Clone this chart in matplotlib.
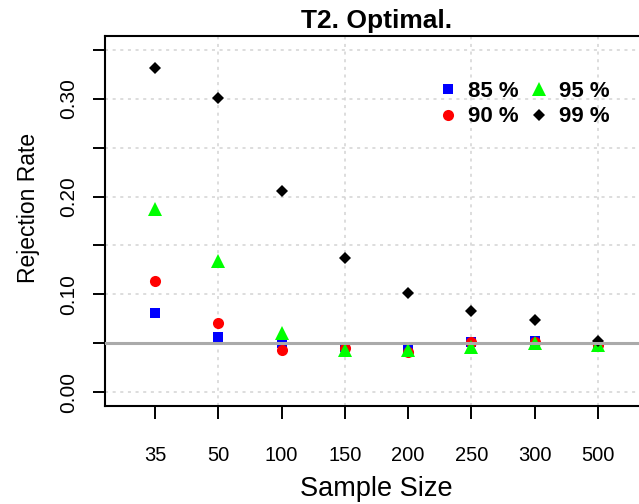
import numpy as np
import matplotlib
matplotlib.use('Agg')
import matplotlib.pyplot as plt

# Datos
sample_sizes = ['35', '50', '100', '150', '200', '250', '300', '500']
rate_85 = [0.081, 0.056, 0.050, 0.046, 0.044, 0.051, 0.052, 0.047]
rate_90 = [0.114, 0.071, 0.043, 0.045, 0.041, 0.051, 0.051, 0.048]
rate_95 = [0.187, 0.134, 0.061, 0.043, 0.043, 0.046, 0.050, 0.048]
rate_99 = [0.331, 0.301, 0.206, 0.137, 0.101, 0.083, 0.074, 0.052]
labels = ['85 %', '90 %', '95 %', '99 %']
nominal = 0.05

plt.rcParams['font.family'] = ['Liberation Sans', 'DejaVu Sans']

# Crear la figura
fig = plt.figure(figsize=[6.39, 5.04], dpi=100)
ax = fig.add_axes([105 / 639, 98 / 504, 543 / 639, 370 / 504])

x = np.arange(1, len(sample_sizes) + 1)
series = [rate_85, rate_90, rate_95, rate_99]
markers = ['s', 'o', '^', 'D']
colors = ['#0000FF', '#FF0000', '#00FF00', '#000000']
sizes = [7.5, 8, 10, 6.5]

for vals, m, c, s, lab in zip(series, markers, colors, sizes, labels):
    ax.plot(x, vals, linestyle='none', marker=m, color=c, markersize=s,
            markeredgewidth=0, label=lab, zorder=3)

# Linea del nivel nominal
ax.axhline(nominal, color='#AAAAAA', linewidth=2.2, zorder=4)

# Rejilla punteada
yticks = np.arange(0, 0.36, 0.05)
for yv in yticks:
    ax.axhline(yv, color='#D3D3D3', linewidth=1.1, linestyle=(0, (2, 3)), zorder=1)
for xv in x[1::2]:
    ax.axvline(xv, color='#D3D3D3', linewidth=1.1, linestyle=(0, (2, 3)), zorder=1)

ax.set_xlim(0.21, 8.79)
ax.set_ylim(-0.014, 0.364)

ax.set_xticks(x)
ax.set_xticklabels(sample_sizes, fontsize=14.5)
ax.set_yticks(yticks)
ax.set_yticklabels(['%.2f' % v if i % 2 == 0 else '' for i, v in enumerate(yticks)],
                   fontsize=15, rotation=90, va='center')

ax.tick_params(axis='both', direction='out', length=9, width=1.4)
ax.tick_params(axis='x', pad=20)
ax.tick_params(axis='y', pad=10)

for axis in ['top', 'bottom', 'left', 'right']:
    ax.spines[axis].set_linewidth(1.5)

ax.set_xlabel('Sample Size', fontsize=19.5, labelpad=8)
ax.set_ylabel('Rejection Rate', fontsize=16.5)
ax.yaxis.set_label_coords(-0.12, 0.535)
ax.set_title('T2. Optimal.', fontsize=19, fontweight='bold', pad=6)

ax.legend(ncol=2, frameon=False, loc='upper left',
          bbox_to_anchor=(439 / 639, 1 - 81 / 504), bbox_transform=fig.transFigure,
          prop={'weight': 'bold', 'size': 16}, handlelength=0.8,
          handletextpad=0.5, columnspacing=0.5, labelspacing=0.2,
          borderpad=0, borderaxespad=0)

fig.savefig('out.png', dpi=100)
